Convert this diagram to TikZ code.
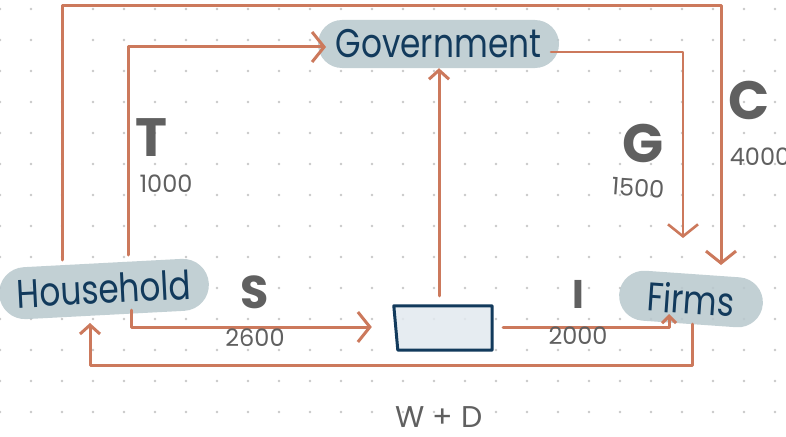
\documentclass[tikz,border=0pt]{standalone}
\usepackage{fontspec}
\setmainfont{Poppins}
\usetikzlibrary{arrows.meta,shapes.misc,calc}
\definecolor{lineC}{RGB}{204,121,92}
\definecolor{pillC}{RGB}{184,200,205}
\definecolor{navyC}{RGB}{18,58,92}
\definecolor{boxC}{RGB}{226,233,239}
\definecolor{grayT}{RGB}{96,96,96}
\definecolor{dotC}{RGB}{200,200,200}
\tikzset{
  flow/.style={draw=lineC, line width=3pt, line cap=round, line join=round},
  tipL/.style={-{Straight Barb[length=12pt,width=30pt]}},
  tipM/.style={-{Straight Barb[length=9pt,width=20pt]}},
  tipS/.style={-{Straight Barb[length=7pt,width=14pt]}},
  pill/.style={rounded rectangle, fill=pillC, fill opacity=0.85, text opacity=1, text=navyC, inner sep=0pt, font=\fontsize{40}{44}\selectfont},
  bigL/.style={text=grayT, font=\bfseries\fontsize{54}{58}\selectfont, inner sep=0pt},
  numL/.style={text=grayT, font=\fontsize{24}{26}\selectfont, inner sep=0pt},
  boxst/.style={draw=navyC, fill=boxC, fill opacity=0.85, line width=3pt, line join=round},
}
\newcommand{\nar}[1]{\scalebox{0.82}[1]{#1}}
\begin{document}
\begin{tikzpicture}[x=1pt,y=1pt]
\useasboundingbox (0,0) rectangle (786,-436);
\fill[white] (0,0) rectangle (786,-436);
\foreach \i in {0,...,25}{\foreach \j in {0,...,13}{\fill[dotC] (31*\i,-9-31*\j) circle (1.3);}}
% nodes
\node[pill, minimum width=241, minimum height=48] (gov) at (438.5,-44) {\nar{Government}};
\node[pill, minimum width=210, minimum height=52, rotate=3] (hh) at (104,-289) {\nar{Household}};
\node[pill, minimum width=144, minimum height=50, rotate=-4] (firms) at (691,-299) {\nar{Firms}};
\node[minimum width=98, minimum height=44, inner sep=0pt] (box) at (443,-328) {};
\draw[boxst] (box.north west) -- (box.north east) -- (box.south east) -- ([xshift=4pt]box.south west) -- cycle;
% connectors
\draw[flow, tipL] ($(hh.center)+(-42,29)$) |- (721,-6) -- ($(firms.center)+(30,34)$);
\draw[flow, tipL] ($(hh.center)+(24,34)$) |- ($(gov.center)+(-112.5,-3)$);
\draw[flow, line width=2.6pt, tipL] ($(gov.center)+(112.5,-8)$) -| ($(firms.center)+(-8,61)$);
\draw[flow, tipM] ([xshift=-4pt,yshift=10pt]box.north) -- ([xshift=0.5pt]gov.south);
\draw[flow, tipL] ($(hh.center)+(27,-21)$) |- ([xshift=-22pt,yshift=1pt]box.west);
\draw[flow, tipS] ([xshift=11pt,yshift=1pt]box.east) -| ($(firms.center)+(-22,-15)$);
\draw[flow, tipM] ($(firms.center)+(1,-25)$) |- (90,-365) -- ($(hh.center)+(-14,-34)$);
% labels
\node[bigL] (lT) at (151,-138) {T};
\node[numL] (nT) at (166,-184) {1000};
\node[bigL] (lG) at (643,-143) {G};
\node[numL, rotate=-4] (nG) at (638,-188) {1500};
\node[bigL] (lC) at (749,-100) {C};
\node[numL] (nC) at (760,-157) {4000};
\node[bigL, font=\bfseries\fontsize{46}{50}\selectfont] (lS) at (255,-292) {S};
\node[numL] (nS) at (255,-338) {2600};
\node[bigL, font=\bfseries\fontsize{40}{44}\selectfont] (lI) at (578,-294) {I};
\node[numL] (nI) at (578,-336) {2000};
\node[text=grayT, font=\fontsize{30}{32}\selectfont, inner sep=0pt] (wd) at (439,-417) {W + D};
\end{tikzpicture}
\end{document}
